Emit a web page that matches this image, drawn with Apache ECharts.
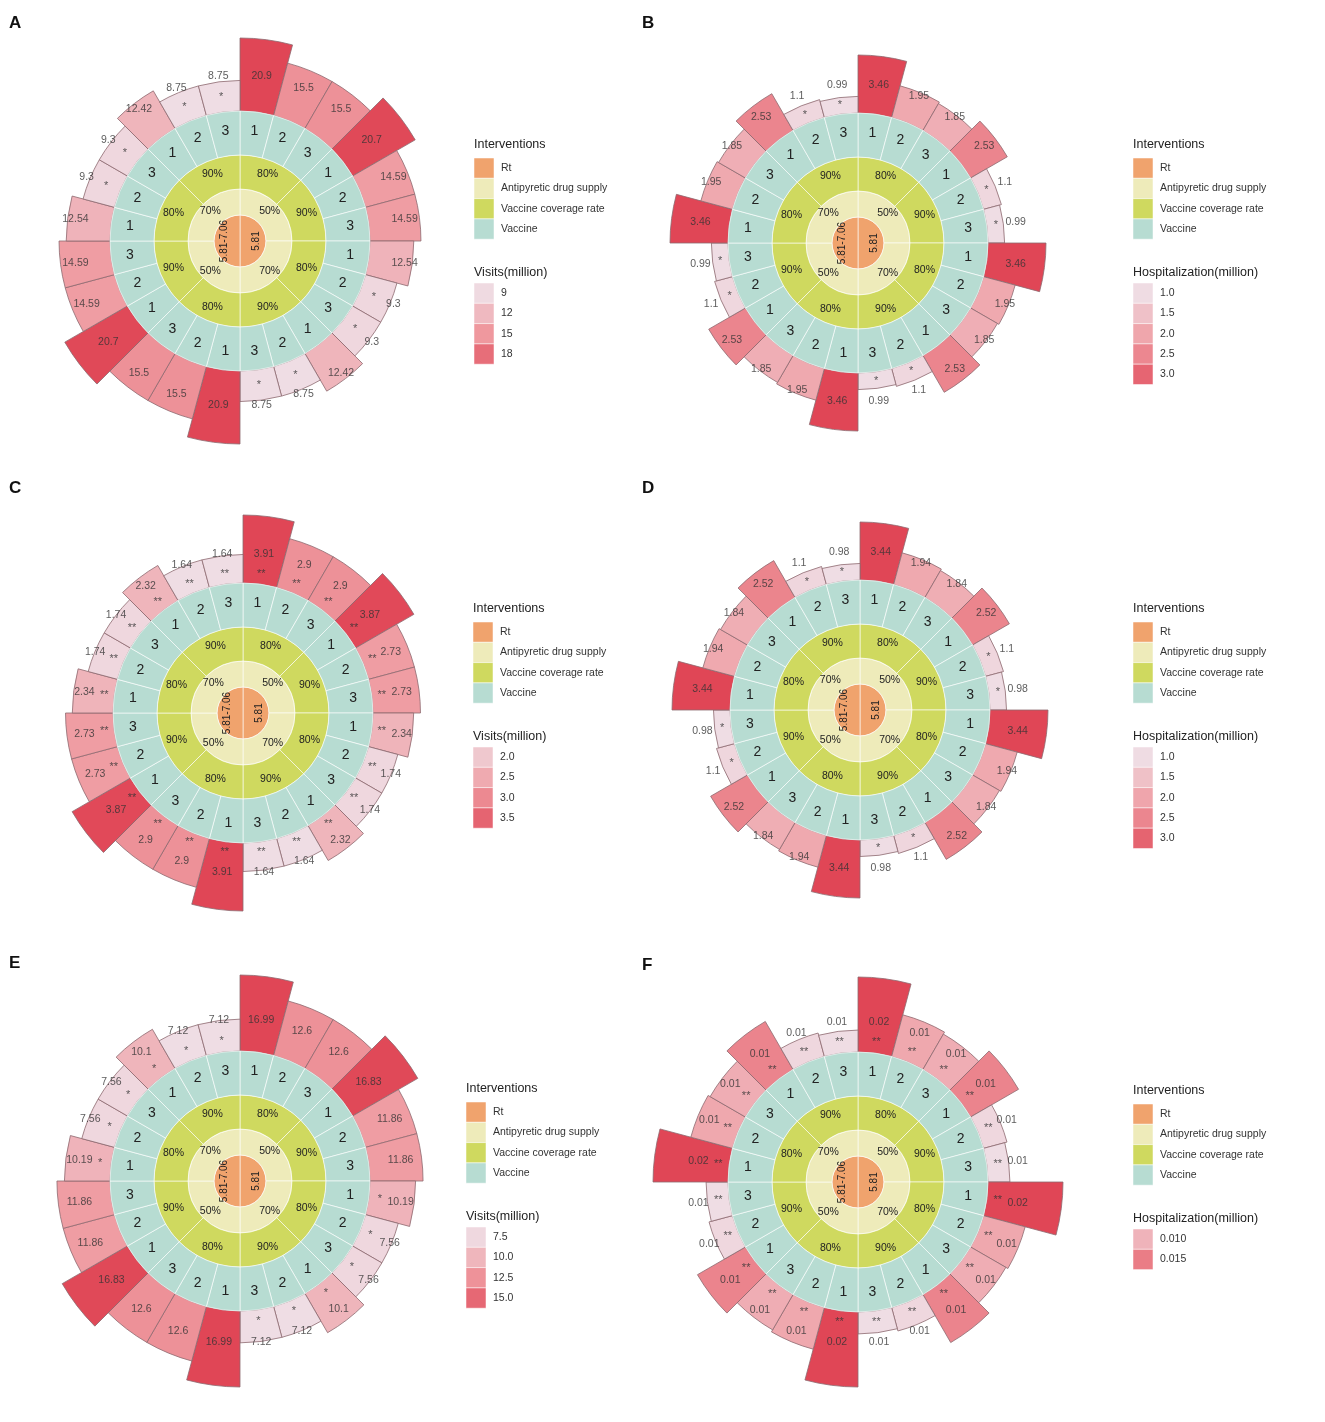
<!DOCTYPE html>
<html>
<head>
<meta charset="utf-8">
<script src="https://cdn.jsdelivr.net/npm/echarts@6/dist/echarts.min.js"></script>
<style>
  html, body { margin: 0; padding: 0; background: #fff; }
  #chart { width: 1325px; height: 1422px; }
</style>
</head>
<body>
<div id="chart"></div>
<script>
// inner rings, same in every panel (clockwise from 12 o'clock)
var rtLabels = ['5.81', '5.81-7.06'];
var drugLabels = ['50%', '70%', '50%', '70%'];
var coverageLabels = ['80%', '90%', '80%', '90%', '80%', '90%', '80%', '90%'];
var vaccineLabels = ['1', '2', '3', '1', '2', '3', '1', '2', '3', '1', '2', '3',
                     '1', '2', '3', '1', '2', '3', '1', '2', '3', '1', '2', '3'];
var interventionNames = ['Rt', 'Antipyretic drug supply', 'Vaccine coverage rate', 'Vaccine'];

// outer bars, clockwise from 12 o'clock
var visitsA = [20.9, 15.5, 15.5, 20.7, 14.59, 14.59, 12.54, 9.3, 9.3, 12.42, 8.75, 8.75,
               20.9, 15.5, 15.5, 20.7, 14.59, 14.59, 12.54, 9.3, 9.3, 12.42, 8.75, 8.75];
var sigA = ['', '', '', '', '', '', '', '*', '*', '', '*', '*',
            '', '', '', '', '', '', '', '*', '*', '', '*', '*'];
var hospB = [3.46, 1.95, 1.85, 2.53, 1.1, 0.99, 3.46, 1.95, 1.85, 2.53, 1.1, 0.99,
             3.46, 1.95, 1.85, 2.53, 1.1, 0.99, 3.46, 1.95, 1.85, 2.53, 1.1, 0.99];
var sigB = ['', '', '', '', '*', '*', '', '', '', '', '*', '*',
            '', '', '', '', '*', '*', '', '', '', '', '*', '*'];
var visitsC = [3.91, 2.9, 2.9, 3.87, 2.73, 2.73, 2.34, 1.74, 1.74, 2.32, 1.64, 1.64,
               3.91, 2.9, 2.9, 3.87, 2.73, 2.73, 2.34, 1.74, 1.74, 2.32, 1.64, 1.64];
var sigC = ['**', '**', '**', '**', '**', '**', '**', '**', '**', '**', '**', '**',
            '**', '**', '**', '**', '**', '**', '**', '**', '**', '**', '**', '**'];
var hospD = [3.44, 1.94, 1.84, 2.52, 1.1, 0.98, 3.44, 1.94, 1.84, 2.52, 1.1, 0.98,
             3.44, 1.94, 1.84, 2.52, 1.1, 0.98, 3.44, 1.94, 1.84, 2.52, 1.1, 0.98];
var sigD = ['', '', '', '', '*', '*', '', '', '', '', '*', '*',
            '', '', '', '', '*', '*', '', '', '', '', '*', '*'];
var visitsE = [16.99, 12.6, 12.6, 16.83, 11.86, 11.86, 10.19, 7.56, 7.56, 10.1, 7.12, 7.12,
               16.99, 12.6, 12.6, 16.83, 11.86, 11.86, 10.19, 7.56, 7.56, 10.1, 7.12, 7.12];
var sigE = ['', '', '', '', '', '', '*', '*', '*', '*', '*', '*',
            '', '', '', '', '', '', '*', '*', '*', '*', '*', '*'];
var hospF = [0.0195, 0.0112, 0.0106, 0.0144, 0.0063, 0.0057, 0.0195, 0.0112, 0.0106, 0.0144, 0.0063, 0.0057,
             0.0195, 0.0112, 0.0106, 0.0144, 0.0063, 0.0057, 0.0195, 0.0112, 0.0106, 0.0144, 0.0063, 0.0057];
var sigF = ['**', '**', '**', '**', '**', '**', '**', '**', '**', '**', '**', '**',
            '**', '**', '**', '**', '**', '**', '**', '**', '**', '**', '**', '**'];

// colour-bar legend ticks
var breaksA = ['9', '12', '15', '18'];
var breaksB = ['1.0', '1.5', '2.0', '2.5', '3.0'];
var breaksC = ['2.0', '2.5', '3.0', '3.5'];
var breaksD = ['1.0', '1.5', '2.0', '2.5', '3.0'];
var breaksE = ['7.5', '10.0', '12.5', '15.0'];
var breaksF = ['0.010', '0.015'];

var ringColors = ['#f0a36d', '#eeebba', '#cfd95f', '#b7dcd2'];
var fillStops = ['#efdde4', '#ef9aa0', '#e04656'];
var FONT = '"Liberation Sans", Arial, sans-serif';
var R_IN = 130;

function plain(v) { return String(v); }
function twoDigits(v) { return v.toFixed(2); }

var panels = [
  { letter: 'A', cx: 240, cy: 241, len: 73, values: visitsA, sig: sigA, breaks: breaksA,
    title: 'Visits(million)', labelOff: 36, starOff: 15, lx: 474, ly: 158, fmt: plain },
  { letter: 'B', cx: 858, cy: 243, len: 58, values: hospB, sig: sigB, breaks: breaksB,
    title: 'Hospitalization(million)', labelOff: 29, starOff: 9, lx: 1133, ly: 158, fmt: plain },
  { letter: 'C', cx: 243, cy: 713, len: 68, values: visitsC, sig: sigC, breaks: breaksC,
    title: 'Visits(million)', labelOff: 30, starOff: 10, lx: 473, ly: 622, fmt: plain },
  { letter: 'D', cx: 860, cy: 710, len: 58, values: hospD, sig: sigD, breaks: breaksD,
    title: 'Hospitalization(million)', labelOff: 29, starOff: 9, lx: 1133, ly: 622, fmt: plain },
  { letter: 'E', cx: 240, cy: 1181, len: 76, values: visitsE, sig: sigE, breaks: breaksE,
    title: 'Visits(million)', labelOff: 32, starOff: 11, lx: 466, ly: 1102, fmt: plain },
  { letter: 'F', cx: 858, cy: 1182, len: 75, values: hospF, sig: sigF, breaks: breaksF,
    title: 'Hospitalization(million)', labelOff: 31, starOff: 11, lx: 1133, ly: 1104, fmt: twoDigits }
];

var letterPos = [[9, 25], [642, 25], [9, 490], [642, 490], [9, 965], [642, 967]];

function ring(p, radius, labels, color, fontSize, rotate) {
  return {
    type: 'pie', center: [p.cx, p.cy], radius: radius,
    startAngle: 90, clockwise: true, silent: true, animation: false,
    avoidLabelOverlap: false,
    itemStyle: { color: color, borderColor: 'rgba(255,255,255,0.75)', borderWidth: 0.8 },
    label: { show: true, position: 'inside', formatter: '{b}', fontSize: fontSize,
             fontFamily: FONT, color: '#222', rotate: rotate },
    labelLine: { show: false },
    data: labels.map(function (l) { return { name: l, value: 1 }; })
  };
}

var polar = [], angleAxis = [], radiusAxis = [], series = [], graphic = [];
var slots = vaccineLabels.map(function (d, k) { return k; });

panels.forEach(function (p, i) {
  var vmin = Math.min.apply(null, p.values);
  var vmax = Math.max.apply(null, p.values);
  var colorOf = function (v) { return echarts.color.lerp((v - vmin) / (vmax - vmin), fillStops); };

  series.push(ring(p, [0, 26], rtLabels, ringColors[0], 10, 90));
  series.push(ring(p, [26, 52], drugLabels, ringColors[1], 10.5, 0));
  series.push(ring(p, [52, 86], coverageLabels, ringColors[2], 10.5, 0));
  series.push(ring(p, [86, R_IN], vaccineLabels, ringColors[3], 14, 0));

  polar.push({ center: [p.cx, p.cy], radius: [R_IN, R_IN + p.len] });
  angleAxis.push({
    polarIndex: i, type: 'category', data: slots, startAngle: 90, clockwise: true,
    axisLine: { show: false }, axisTick: { show: false }, axisLabel: { show: false },
    splitLine: { show: false }
  });
  radiusAxis.push({
    polarIndex: i, type: 'value', min: 0, max: vmax,
    axisLine: { show: false }, axisTick: { show: false }, axisLabel: { show: false },
    splitLine: { show: false }
  });

  series.push({
    type: 'bar', coordinateSystem: 'polar', polarIndex: i, barCategoryGap: '0%',
    silent: true, animation: false,
    itemStyle: { borderColor: '#8d6a70', borderWidth: 0.8 },
    data: p.values.map(function (v) { return { value: v, itemStyle: { color: colorOf(v) } }; })
  });

  var labelR = p.labelOff / p.len * vmax;
  series.push({
    type: 'scatter', coordinateSystem: 'polar', polarIndex: i, symbolSize: 1,
    silent: true, animation: false, itemStyle: { color: 'rgba(0,0,0,0)' },
    label: { show: true, position: 'inside', fontSize: 10.5, fontFamily: FONT, color: '#333',
             formatter: function (d) { return p.fmt(p.values[d.dataIndex]); } },
    data: p.values.map(function (v, k) { return [labelR, k]; })
  });

  var starR = p.starOff / p.len * vmax;
  var stars = [];
  p.sig.forEach(function (s, k) { if (s) stars.push({ value: [starR, k], mark: s }); });
  series.push({
    type: 'scatter', coordinateSystem: 'polar', polarIndex: i, symbolSize: 1,
    silent: true, animation: false, itemStyle: { color: 'rgba(0,0,0,0)' },
    label: { show: true, position: 'inside', fontSize: 11, fontFamily: FONT, color: '#333',
             formatter: function (d) { return d.data.mark; } },
    data: stars
  });

  // panel letter
  graphic.push({ type: 'text', left: letterPos[i][0], top: letterPos[i][1] - 10,
    style: { text: p.letter, font: 'bold 17px ' + FONT, fill: '#111' } });

  // legends
  var sw = 20, sh = 20.3;
  graphic.push({ type: 'text', x: p.lx, y: p.ly - 13,
    style: { text: 'Interventions', font: '12.5px ' + FONT, fill: '#222', verticalAlign: 'middle' } });
  interventionNames.forEach(function (n, k) {
    graphic.push({ type: 'rect', shape: { x: p.lx, y: p.ly + k * sh, width: sw, height: sh },
      style: { fill: ringColors[k], stroke: '#fff', lineWidth: 0.5 } });
    graphic.push({ type: 'text', x: p.lx + 27, y: p.ly + k * sh + sh / 2,
      style: { text: n, font: '10.5px ' + FONT, fill: '#333', verticalAlign: 'middle' } });
  });
  var t2 = p.ly + 115, top2 = p.ly + 125;
  graphic.push({ type: 'text', x: p.lx, y: t2,
    style: { text: p.title, font: '12.5px ' + FONT, fill: '#222', verticalAlign: 'middle' } });
  p.breaks.forEach(function (b, k) {
    graphic.push({ type: 'rect', shape: { x: p.lx, y: top2 + k * sh, width: sw, height: sh },
      style: { fill: colorOf(parseFloat(b)), stroke: '#fff', lineWidth: 0.5 } });
    graphic.push({ type: 'text', x: p.lx + 27, y: top2 + k * sh + sh / 2,
      style: { text: b, font: '10.5px ' + FONT, fill: '#333', verticalAlign: 'middle' } });
  });
});

var myChart = echarts.init(document.getElementById('chart'));
var option = {
  backgroundColor: '#fff',
  animation: false,
  polar: polar,
  angleAxis: angleAxis,
  radiusAxis: radiusAxis,
  series: series,
  graphic: graphic
};
myChart.setOption(option);
</script>
</body>
</html>
